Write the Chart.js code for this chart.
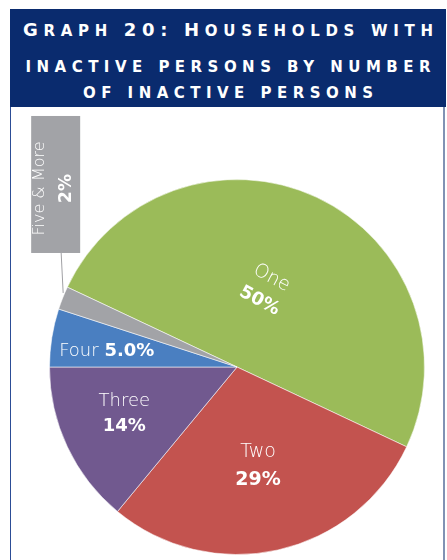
<!DOCTYPE html>
<html>
<head>
<meta charset="utf-8">
<script src="https://cdn.jsdelivr.net/npm/chart.js@4.4.0/dist/chart.umd.min.js"></script>
<style>
  body { margin: 0; background: #fff; width: 447px; height: 560px; overflow: hidden; position: relative; }
  #title { position: absolute; left: 10px; top: 9px; width: 436px; height: 98px; background: #0a2b6e; }
  .tline { position: absolute; left: 0; width: 436px; text-align: center; color: #fff;
           font-family: "DejaVu Sans", sans-serif; font-weight: bold;
           font-size: 15px; line-height: 20px; white-space: nowrap; }
  .tline span { display: inline-block; }
  .tline b { font-size: 18px; }
  #panel { position: absolute; left: 10px; top: 107px; width: 435px; height: 460px;
           border-left: 1px solid #2c4d96; border-right: 2px solid #8192b4; box-sizing: border-box; }
  #myChart { position: absolute; left: 11px; top: 107px; }
</style>
</head>
<body>
<div id="title">
  <div class="tline" style="top:11px"><span data-w="410"><b>G</b>RAPH <b>20:</b> <b>H</b>OUSEHOLDS WITH</span></div>
  <div class="tline" style="top:48px"><span data-w="405">INACTIVE PERSONS BY NUMBER</span></div>
  <div class="tline" style="top:74px"><span data-w="290">OF INACTIVE PERSONS</span></div>
</div>
<div id="panel"></div>
<canvas id="myChart" width="433" height="453"></canvas>
<script>
// spread the title letters to the width of the original heading
document.querySelectorAll('.tline span').forEach(function (el) {
  var n = el.textContent.length;
  var w = el.getBoundingClientRect().width;
  var ls = (parseFloat(el.dataset.w) - w) / (n - 1);
  el.style.letterSpacing = ls + 'px';
  el.style.marginRight = (-ls) + 'px';
});

// setup
const categories = ['One', 'Two', 'Three', 'Four', 'Five & More'];
const shares = [50, 29, 14, 5, 2];
const shareLabels = ['50%', '29%', '14%', '5.0%', '2%'];
const sliceColors = ['#9bbb59', '#c3534f', '#71598f', '#4a7fc1', '#a2a3a7'];

const thinFont = (size) => '200 ' + size + 'px "DejaVu Sans", sans-serif';
const boldFont = (size) => 'bold ' + size + 'px "DejaVu Sans", sans-serif';

// label placement inside slices: radius fraction, angle shift (deg), text rotation (deg), line gap
const inside = [
  { frac: 0.44, shift: -5, rot: 28, gap: 26, size: 19, bsize: 18 },
  { frac: 0.54, shift: 0.6, rot: 0, gap: 28, size: 19, bsize: 19 },
  { frac: 0.65, shift: 2.8, rot: 0, gap: 25, size: 18, bsize: 18 },
  { frac: 0.70, shift: -2, rot: 0, gap: 0, size: 18, bsize: 18 },
];

const labelPlugin = {
  id: 'sliceLabels',
  afterDatasetsDraw(chart) {
    const ctx = chart.ctx;
    const arcs = chart.getDatasetMeta(0).data;
    ctx.save();
    ctx.fillStyle = '#fff';
    ctx.textAlign = 'center';
    ctx.textBaseline = 'middle';
    arcs.forEach((arc, i) => {
      const p = arc.getProps(['x', 'y', 'startAngle', 'endAngle', 'outerRadius'], true);
      const mid = (p.startAngle + p.endAngle) / 2;
      if (i < inside.length) {
        const s = inside[i];
        const a = mid + s.shift * Math.PI / 180;
        const lx = p.x + Math.cos(a) * p.outerRadius * s.frac;
        const ly = p.y + Math.sin(a) * p.outerRadius * s.frac;
        ctx.save();
        ctx.translate(lx, ly);
        ctx.rotate(s.rot * Math.PI / 180);
        if (s.gap > 0) {
          ctx.font = thinFont(s.size);
          ctx.fillText(categories[i], 0, -s.gap / 2);
          ctx.font = boldFont(s.bsize);
          ctx.fillText(shareLabels[i], 0, s.gap / 2);
        } else {
          ctx.font = thinFont(s.size);
          const w1 = ctx.measureText(categories[i] + ' ').width;
          ctx.font = boldFont(s.bsize);
          const w2 = ctx.measureText(shareLabels[i]).width;
          const x0 = -(w1 + w2) / 2;
          ctx.textAlign = 'left';
          ctx.font = thinFont(s.size);
          ctx.fillText(categories[i] + ' ', x0, 0);
          ctx.font = boldFont(s.bsize);
          ctx.fillText(shareLabels[i], x0 + w1, 0);
        }
        ctx.restore();
      } else {
        // outside label in a grey box with leader line
        const ox = p.x + Math.cos(mid) * p.outerRadius;
        const oy = p.y + Math.sin(mid) * p.outerRadius;
        const bw = 49, bh = 137;
        const bx = ox - bw / 2 - 7, by = oy - 45 - bh;
        ctx.strokeStyle = '#a0a0a4';
        ctx.lineWidth = 1;
        ctx.beginPath();
        ctx.moveTo(ox + 0.5, oy - 5);
        ctx.lineTo(ox - 1.5, by + bh);
        ctx.stroke();
        ctx.fillStyle = sliceColors[i];
        ctx.fillRect(bx, by, bw, bh);
        ctx.fillStyle = '#fff';
        ctx.save();
        ctx.translate(bx + bw / 2, by + bh / 2 + 4);
        ctx.rotate(-Math.PI / 2);
        ctx.font = thinFont(16);
        ctx.fillText(categories[i], 0, -16);
        ctx.font = boldFont(17);
        ctx.fillText(shareLabels[i], 0, 11);
        ctx.restore();
      }
    });
    ctx.restore();
  }
};

const data = {
  labels: categories,
  datasets: [{
    data: shares,
    backgroundColor: sliceColors,
    borderColor: 'rgba(255,255,255,0.55)',
    borderWidth: 1,
  }]
};

// config
const config = {
  type: 'pie',
  data,
  options: {
    responsive: false,
    animation: false,
    devicePixelRatio: 1,
    rotation: -64.8,
    layout: { padding: { left: 38, right: 19, top: 72, bottom: 5 } },
    plugins: {
      legend: { display: false },
      tooltip: { enabled: false }
    }
  },
  plugins: [labelPlugin]
};

// render init block
const myChart = new Chart(document.getElementById('myChart'), config);
</script>
</body>
</html>
